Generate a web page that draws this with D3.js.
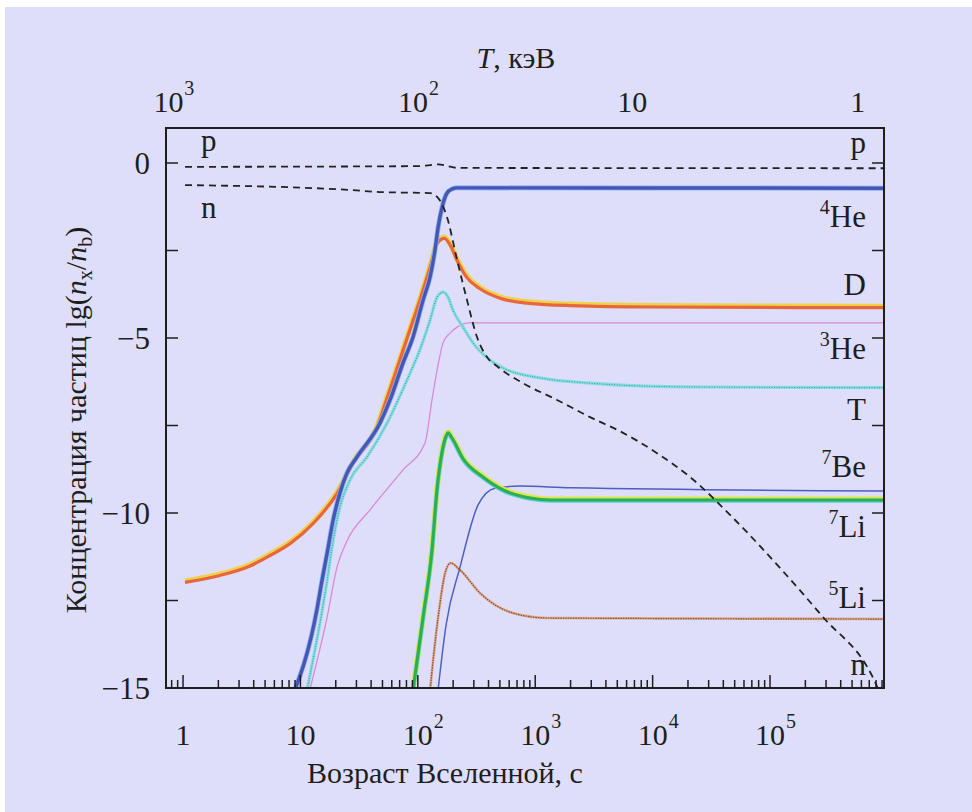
<!DOCTYPE html>
<html>
<head>
<meta charset="utf-8">
<script src="https://cdn.jsdelivr.net/npm/d3@7"></script>
<style>
  body { margin: 0; background: #fff; }
  text { font-family: "Liberation Serif", "DejaVu Serif", serif; fill: #1e1e1e; }
</style>
</head>
<body>
<div id="chart"></div>
<script>
// age of the Universe in seconds, lg of concentration n_x/n_b
var protonData = [[1.04,-0.11],[100,-0.09],[150,-0.04],[175,-0.08],[220,-0.14],[9.35e5,-0.15]];
var neutronData = [[1.04,-0.63],[26.4,-0.77],[47.6,-0.83],[127,-0.86],[146,-0.97],[155,-1.08],[177,-1.54],
  [216,-2.77],[262,-3.91],[319,-4.97],[388,-5.54],[482,-5.83],[788,-6.29],[1535,-6.77],[2930,-7.26],
  [5600,-7.71],[10900,-8.29],[20800,-8.97],[50400,-10.2],[121600,-11.57],[282000,-12.97],[754000,-14.71],[8.4e5,-15.05]];
var he4Data = [[8.4,-15.3],[13.8,-12.77],[15.3,-11.91],[16.9,-11.14],[19.0,-10.2],[21.7,-9.43],[24.9,-8.86],
  [30.3,-8.4],[47.6,-7.43],[58,-6.77],[74.8,-5.71],[91,-4.97],[111,-3.91],[127,-3.26],[140,-2.49],
  [149,-1.83],[161,-1.26],[177,-0.86],[196,-0.74],[216,-0.71],[9.35e5,-0.72]];
var deutData = [[1.04,-11.97],[2.07,-11.77],[3.72,-11.5],[5.51,-11.2],[8.15,-10.86],[12.8,-10.29],[20.5,-9.43],
  [28.1,-8.57],[44.9,-7.54],[54.7,-6.7],[61.5,-6.2],[80.9,-5.0],[104,-3.91],[127,-2.97],[146,-2.29],
  [168,-2.14],[190,-2.35],[216,-2.77],[262,-3.26],[339,-3.58],[501,-3.85],[800,-3.98],[2000,-4.06],
  [10000,-4.1],[9.35e5,-4.12]];
var he3Data = [[11.0,-15.3],[16.9,-11.91],[18.6,-10.97],[21.7,-9.83],[26.4,-9.06],[36.9,-8.4],[54.7,-7.43],
  [80.9,-6.2],[104,-5.34],[127,-4.49],[146,-3.83],[164,-3.69],[182,-3.85],[199,-4.2],[243,-4.69],
  [295,-5.14],[412,-5.63],[575,-5.91],[1099,-6.14],[2930,-6.29],[7810,-6.37],[25300,-6.4],[9.35e5,-6.42]];
var tritData = [[11.5,-15.3],[16.9,-12.97],[20.5,-11.54],[24.9,-10.8],[39.2,-9.91],[74.8,-8.77],[115,-8.0],
  [132,-6.77],[146,-5.91],[164,-5.14],[188,-4.86],[216,-4.69],[278,-4.57],[9.35e5,-4.57]];
var be7Data = [[89,-15.3],[111,-12.97],[132,-11.06],[146,-9.3],[161,-8.25],[172,-7.85],[181,-7.71],
  [195,-7.85],[243,-8.45],[359,-8.97],[532,-9.34],[903,-9.57],[1337,-9.63],[9.35e5,-9.63]];
var li7Data = [[146,-15.3],[174,-13.2],[229,-11.54],[326,-9.77],[455,-9.29],[740,-9.23],[2000,-9.28],[9.35e5,-9.37]];
var li5Data = [[125,-15.3],[149,-12.97],[171,-11.71],[190,-11.43],[229,-11.63],[339,-12.29],[647,-12.86],
  [1261,-13.0],[9.35e5,-13.03]];

var ageTickLabels = [[1,"1",""],[10,"10",""],[100,"10","2"],[1000,"10","3"],[1e4,"10","4"],[1e5,"10","5"]];
var concTicks = [0,-2.5,-5,-7.5,-10,-12.5,-15];
var concLabels = [0,-5,-10,-15];
// temperature (keV) and the age (s) at which it is reached
var tempLabels = [["10","3"],["10","2"],["10",""],["1",""]];
var tempAges = [0.75, 91, 6700, 5.6e5];

var rightLabels = [["","p",153],["4","He",227],["","D",295],["3","He",359],["","T",420],
  ["7","Be",477],["7","Li",537],["5","Li",608],["","n",675]];

var margin = {top: 128, right: 88, bottom: 124, left: 166};
var W = 972, H = 812;
var width = W - margin.left - margin.right,
    height = H - margin.top - margin.bottom;

var svg = d3.select("#chart").append("svg")
    .attr("width", W).attr("height", H);

svg.append("rect").attr("x", 5).attr("y", 7).attr("width", W).attr("height", H).attr("fill", "#dedefb");

var g = svg.append("g").attr("transform", "translate(" + margin.left + "," + margin.top + ")");

var x = d3.scaleLog().domain([0.716, 9.35e5]).range([0, width]);
var y = d3.scaleLinear().domain([-15, 1]).range([height, 0]);

g.append("clipPath").attr("id", "clip").append("rect").attr("width", width).attr("height", height);

var line = d3.line()
    .x(function(d) { return x(d[0]); })
    .y(function(d) { return y(d[1]); })
    .curve(d3.curveMonotoneX);

var plot = g.append("g").attr("clip-path", "url(#clip)");

function draw(data, color, w, dash, dy) {
  plot.append("path").datum(data)
    .attr("fill", "none").attr("stroke", color).attr("stroke-width", w)
    .attr("stroke-dasharray", dash || null)
    .attr("stroke-linejoin", "round")
    .attr("transform", dy ? "translate(0," + dy + ")" : null)
    .attr("d", line);
}

// thin ones first
draw(tritData, "#d68ad6", 1.3);
draw(li5Data, "#e3a488", 2.6);
draw(li5Data, "#7a5a3a", 1.2, "1.5,1");
draw(li7Data, "#4c5ec2", 1.5);
draw(he3Data, "#86dce4", 3.2);
draw(he3Data, "#3a9e8e", 1, "1,1.5");
draw(be7Data, "#d9e84a", 5.5, null, -0.8);
draw(be7Data, "#56cfe0", 4, null, 0.8);
draw(be7Data, "#2fae4e", 3);
draw(deutData, "#f0d24a", 5, null, -1);
draw(deutData, "#e8663c", 3.2, null, 0.5);
draw(he4Data, "#8fb4ee", 5);
draw(he4Data, "#4656b4", 3.4);
draw(protonData, "#222", 1.8, "7,5");
draw(neutronData, "#222", 1.8, "7,5");

// frame
g.append("rect").attr("width", width).attr("height", height)
  .attr("fill", "none").attr("stroke", "#1e1e1e").attr("stroke-width", 2);

// bottom ticks, inward
var ageTicks = x.ticks();
g.selectAll(".xtick").data(ageTicks).enter().append("line")
  .attr("class", "xtick")
  .attr("x1", function(d) { return x(d); }).attr("x2", function(d) { return x(d); })
  .attr("y1", height)
  .attr("y2", function(d) { return Math.abs(Math.log10(d) - Math.round(Math.log10(d))) < 1e-6 ? height - 13 : height - 8; })
  .attr("stroke", "#1e1e1e").attr("stroke-width", 1.5);

ageTickLabels.forEach(function(d) {
  g.append("text").attr("x", x(d[0])).attr("y", height + 57)
    .attr("text-anchor", "middle").attr("font-size", 30).text(d[1]);
  if (d[2]) g.append("text").attr("x", x(d[0]) + 16).attr("y", height + 40)
    .attr("font-size", 20).text(d[2]);
});

// left & right ticks, inward
concTicks.forEach(function(d) {
  g.append("line").attr("x1", 0).attr("x2", 12).attr("y1", y(d)).attr("y2", y(d))
    .attr("stroke", "#1e1e1e").attr("stroke-width", 1.5);
  g.append("line").attr("x1", width).attr("x2", width - 12).attr("y1", y(d)).attr("y2", y(d))
    .attr("stroke", "#1e1e1e").attr("stroke-width", 1.5);
});
concLabels.forEach(function(d) {
  g.append("text").attr("x", -16).attr("y", y(d) + 11)
    .attr("text-anchor", "end").attr("font-size", 31)
    .text(d === 0 ? "0" : "\u2212" + Math.abs(d));
});

// top temperature labels
tempLabels.forEach(function(d, i) {
  var xx = x(tempAges[i]);
  g.append("text").attr("x", xx).attr("y", -16)
    .attr("text-anchor", "middle").attr("font-size", 30).text(d[0]);
  if (d[1]) g.append("text").attr("x", xx + 16).attr("y", -33).attr("font-size", 20).text(d[1]);
});

// curve names
rightLabels.forEach(function(d) {
  var t = svg.append("text").attr("x", 866).attr("y", d[2])
    .attr("text-anchor", "end").attr("font-size", 31);
  if (d[0]) {
    t.append("tspan").attr("font-size", 20).attr("dy", -13).text(d[0]);
    t.append("tspan").attr("dy", 13).text(d[1]);
  } else t.text(d[1]);
});
svg.append("text").attr("x", 201).attr("y", 151).attr("font-size", 31).text("p");
svg.append("text").attr("x", 201).attr("y", 218).attr("font-size", 31).text("n");

// axis titles
var tt = svg.append("text").attr("x", 516).attr("y", 68).attr("text-anchor", "middle").attr("font-size", 30);
tt.append("tspan").attr("font-style", "italic").text("T");
tt.append("tspan").text(", кэВ");

svg.append("text").attr("x", 445).attr("y", 783).attr("text-anchor", "middle")
  .attr("font-size", 30).text("Возраст Вселенной, с");

var yt = svg.append("text").attr("transform", "translate(86,420) rotate(-90)")
  .attr("text-anchor", "middle").attr("font-size", 30);
yt.append("tspan").text("Концентрация частиц  lg(");
yt.append("tspan").attr("font-style", "italic").text("n");
yt.append("tspan").attr("font-size", 20).attr("dy", 6).text("x");
yt.append("tspan").attr("dy", -6).text("/");
yt.append("tspan").attr("font-style", "italic").text("n");
yt.append("tspan").attr("font-size", 20).attr("dy", 6).text("b");
yt.append("tspan").attr("dy", -6).text(")");
</script>
</body>
</html>
